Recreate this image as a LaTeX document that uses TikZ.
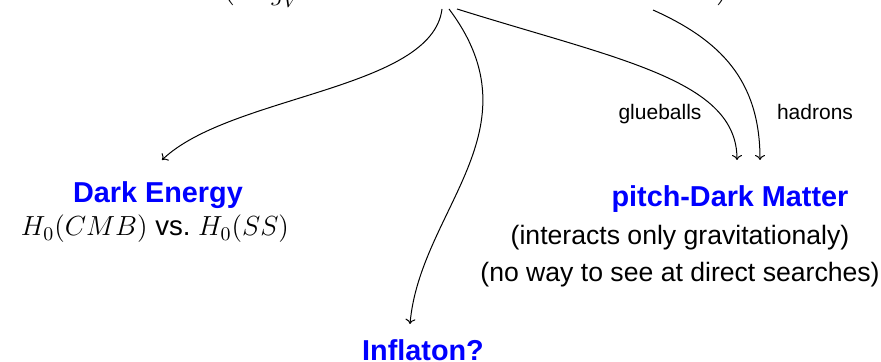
\RequirePackage{fix-cm}
\documentclass[tikz,border=0pt]{standalone}
\usepackage{fontspec}
\setsansfont{Liberation Sans}
\usetikzlibrary{arrows.meta}
\begin{document}
\begin{tikzpicture}[
	x=0.5pt, y=-0.5pt,
	title/.style={ font=\fontsize{14.4}{17}\sffamily\bfseries, text=blue, anchor=base, inner sep=0pt },
	note/.style={ font=\fontsize{13.3}{16}\sffamily, anchor=base, inner sep=0pt },
	tag/.style={ font=\fontsize{10.5}{12}\sffamily, anchor=base, inner sep=0pt },
	flow/.style={ -{To[length=2.5pt,width=5pt]}, line width=0.5pt }
]
\useasboundingbox (0,0) rectangle (881,362);

% top line, mostly outside the page
\node at (38,-18) (scale) [note, anchor=base west] {$\displaystyle Z = \int \mathcal{D}A\;\,\exp\left(-\frac{1}{2g_V^2}\int d^4x\;\mathrm{Tr}\,F_{\mu\nu}F^{\mu\nu} + \bar\psi\,(i\gamma^\mu D_\mu - m)\,\psi\right)$};
\coordinate (s1) at (442,9);
\coordinate (s2) at (449,9);
\coordinate (s3) at (457,9);
\coordinate (s4) at (653,10);

\node at (158,203) (de) [title] {Dark Energy};
\node at (155,236) (deh) [note, font=\fontsize{13.8}{16}\sffamily] {$H_0(CMB)$ vs.\ $H_0(SS)$};
\node at (423,360) (inf) [title] {Inflaton?};
\node at (730,207) (dm) [title] {pitch-Dark Matter};
\node at (680,245) (dma) [note] {(interacts only gravitationaly)};
\node at (680,282) (dmb) [note] {(no way to see at direct searches)};
\node at (660,120) (glue) [tag] {glueballs};
\node at (815,120) (had) [tag] {hadrons};

\coordinate (t1) at (162,160);
\coordinate (t2) at (410,324);
\coordinate (t3) at (737,160);
\coordinate (t4) at (760,160);

\draw[flow] (s1) .. controls (432,90) and (230,95) .. (t1);
\draw[flow] (s2) .. controls (540,130) and (420,210) .. (t2);
\draw[flow] (s3) .. controls (620,60) and (737,80) .. (t3);
\draw[flow] (s4) .. controls (720,40) and (760,80) .. (t4);

\end{tikzpicture}
\end{document}
